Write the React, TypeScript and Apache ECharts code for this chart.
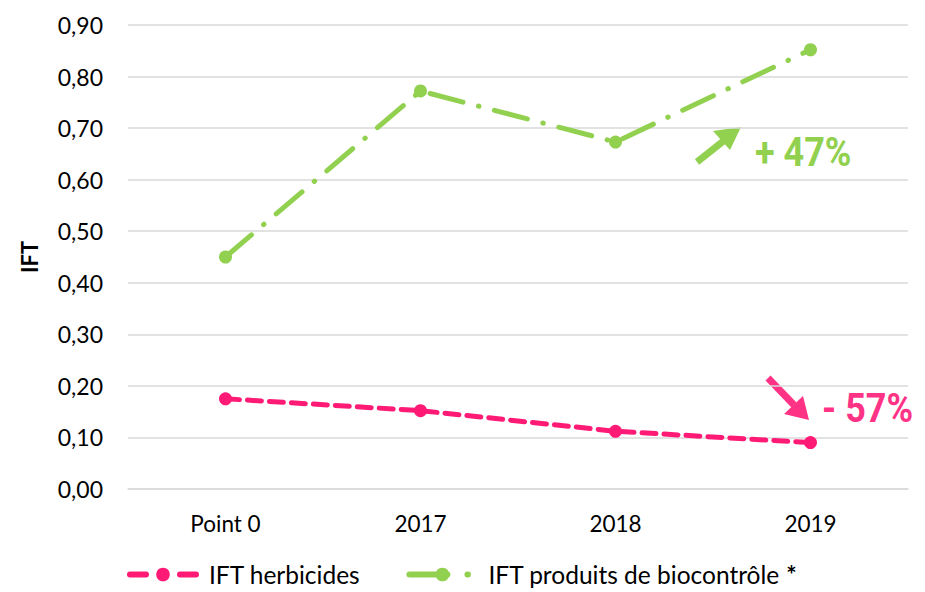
import React, { useEffect, useRef } from "react";
import * as echarts from "echarts";

const categories = ["Point 0", "2017", "2018", "2019"];
const herbicides = [0.175, 0.152, 0.112, 0.09];
const biocontrole = [0.45, 0.772, 0.673, 0.852];
const seriesNames = ["IFT herbicides", "IFT produits de biocontrôle *"];
const pink = "#FF1A75";
const green = "#92D050";
const font = "Lato";

export default function App() {
  const ref = useRef<HTMLDivElement>(null);
  useEffect(() => {
    if (!ref.current) return;
    const chart = echarts.init(ref.current, null, { renderer: "svg" });
    chart.setOption({
      animation: false,
      grid: { left: 128, right: 17, top: 25, bottom: 103 },
      xAxis: {
        type: "category",
        data: categories,
        axisTick: { show: false },
        axisLine: { lineStyle: { color: "#D9D9D9", width: 1.5 } },
        axisLabel: { color: "#000", fontSize: 22.5, fontFamily: font, margin: 23 },
      },
      yAxis: {
        type: "value",
        min: 0,
        max: 0.9,
        interval: 0.1,
        name: "IFT",
        nameLocation: "middle",
        nameGap: 88,
        nameTextStyle: { color: "#000", fontSize: 22, fontWeight: "bold", fontFamily: font },
        axisLabel: {
          color: "#000",
          fontSize: 23,
          fontFamily: font,
          margin: 25,
          formatter: (v: number) => v.toFixed(2).replace(".", ","),
        },
        splitLine: { lineStyle: { color: "#D9D9D9", width: 1.5 } },
      },
      legend: {
        bottom: 0,
        left: 122,
        itemGap: 46,
        itemWidth: 66,
        itemHeight: 17,
        textStyle: {
          color: "#000",
          fontSize: 24.5,
          fontFamily: font,
          padding: [0, 0, 0, 8],
          rich: {
            n: { color: "#000", fontSize: 24.5, fontFamily: font },
            b: { color: "#000", fontSize: 24.5, fontFamily: font, fontWeight: "bold" },
          },
        },
        formatter: (name: string) =>
          name.endsWith("*") ? `{n|${name.slice(0, -1)}}{b|*}` : name,
        data: [
          { name: seriesNames[0], lineStyle: { width: 6, type: [16, 34, 16] } },
          { name: seriesNames[1], lineStyle: { width: 6, type: [38, 20, 0.5, 30], cap: "round" } },
        ],
      },
      series: [
        {
          name: seriesNames[0],
          type: "line",
          data: herbicides,
          symbol: "circle",
          symbolSize: 13,
          itemStyle: { color: pink },
          lineStyle: { color: pink, width: 5, type: [14, 8], cap: "round" },
        },
        {
          name: seriesNames[1],
          type: "line",
          data: biocontrole,
          symbol: "circle",
          symbolSize: 13,
          itemStyle: { color: green },
          lineStyle: { color: green, width: 5, type: [34, 16, 0.5, 16], cap: "round" },
        },
      ],
      graphic: [
        {
          type: "line",
          shape: { x1: 697, y1: 162, x2: 726, y2: 139 },
          style: { stroke: green, lineWidth: 7 },
        },
        {
          type: "polygon",
          shape: { points: [[741, 127], [713, 131], [730, 150]] },
          style: { fill: green },
        },
        {
          type: "text",
          x: 755,
          y: 152,
          scaleX: 0.9,
          style: {
            text: "+ 47%",
            fill: green,
            font: "bold 40px Roboto",
            textVerticalAlign: "middle",
          },
        },
        {
          type: "line",
          shape: { x1: 768, y1: 378, x2: 794, y2: 405 },
          style: { stroke: "#FF3385", lineWidth: 7 },
        },
        {
          type: "polygon",
          shape: { points: [[809, 420], [784, 414], [803, 396]] },
          style: { fill: "#FF3385" },
        },
        {
          type: "text",
          x: 822,
          y: 408,
          scaleX: 0.9,
          style: {
            text: "- 57%",
            fill: "#FF3385",
            font: "bold 40px Roboto",
            textVerticalAlign: "middle",
          },
        },
      ],
    });
    return () => chart.dispose();
  }, []);
  return <div ref={ref} style={{ width: 925, height: 592, position: "absolute", left: 0, top: 0 }} />;
}
